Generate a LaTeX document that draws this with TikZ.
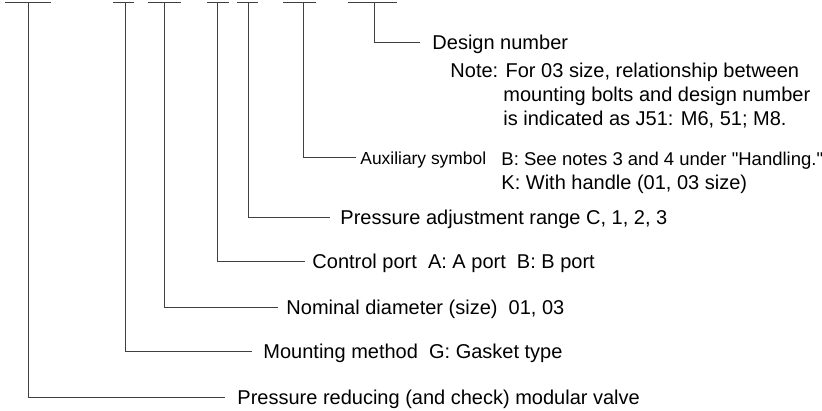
\documentclass[tikz,border=0pt]{standalone}
\usepackage{fontspec}
\setmainfont{Liberation Sans}[Ligatures=TeXOff]
\begin{document}
\begin{tikzpicture}[x=1pt,y=-1pt,line width=.9pt,
    lbl/.style={anchor=west,inner ysep=0pt,text height=15pt,text depth=0pt,font=\fontsize{20}{24}\selectfont},
    txt/.style={anchor=base west,inner sep=0pt,font=\fontsize{20}{24}\selectfont}]
    \useasboundingbox (0,0) rectangle (822,410);
    \def\yt{2}% hàng gạch trên
    % gạch trên: tên/trái/chân/phải
    \foreach \n/\l/\s/\r in {p/5/28/51,m/113/125/134,d/148/164/181,c/207/217/229,a/237/248/258,x/283/303/316,n/348/374/397}{
        \draw[black!75] (\l,\yt)--(\r,\yt);
        \coordinate (s\n) at (\s,\yt);
    }
    % nhãn: tên/cuối đường/y/khoảng/chữ
    \path
    foreach \n/\e/\y/\g/\t in {n/420/42/12/{Design number},
        x/356/157/4/{\fontsize{17.4}{20}\selectfont Auxiliary symbol},
        a/330/217/10/{Pressure adjustment range C, 1, 2, 3},
        c/305/261/7/{Control port\ \ A: A port\ \ B: B port},
        d/278/307/8/{Nominal diameter (size)\ \ 01, 03},
        m/252/351/11/{Mounting method\ \ G: Gasket type},
        p/225/397/12/{Pressure reducing (and check) modular valve}}
    {(\e,\y) node[lbl,inner xsep=\g pt] (l\n) {\t}};
    \foreach \n in {n,x,a,c,d,m,p} \draw[black!75] (s\n)|-(l\n.west);
    % ghi chú
    \node[txt] (note1) at (450,77) {Note: For 03 size, relationship between};
    \node[txt] (note2) at (503,101) {mounting bolts and design number};
    \node[txt] (note3) at (503,125) {is indicated as J51: M6, 51; M8.};
    \node[txt,font=\fontsize{18.5}{24}\selectfont] (auxb) at (501,165) {B: See notes 3 and 4 under "Handling."};
    \node[txt] (auxk) at (501,189) {K: With handle (01, 03 size)};
\end{tikzpicture}
\end{document}
